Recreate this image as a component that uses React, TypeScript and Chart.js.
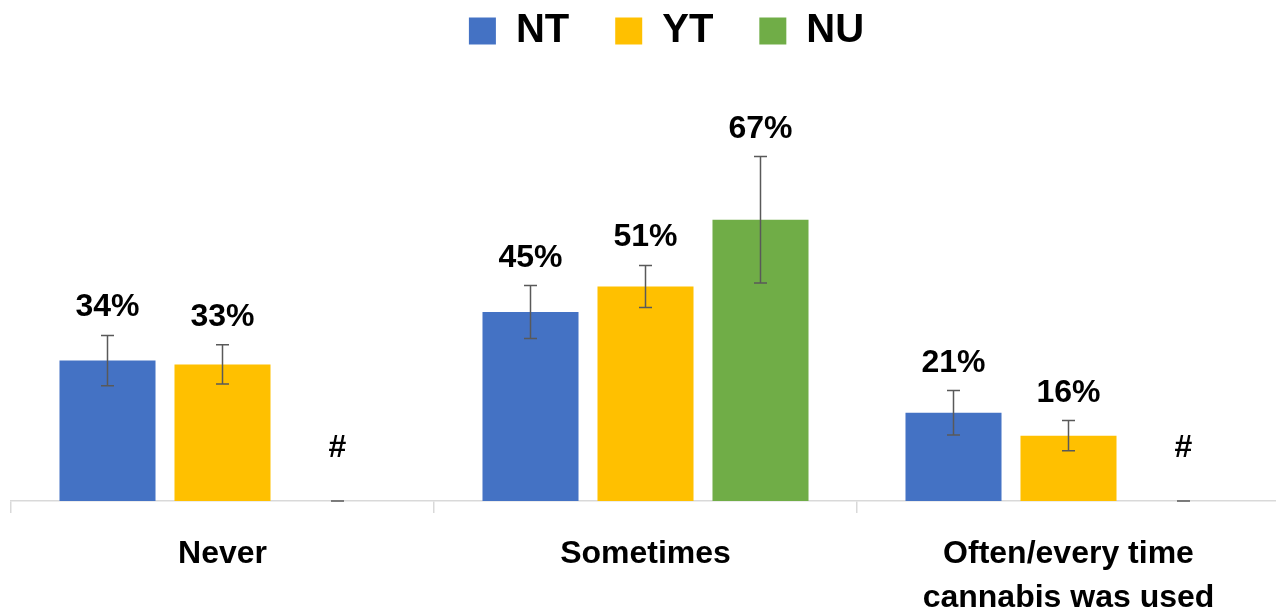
import React, { useEffect, useRef } from 'react';
import { Chart, registerables } from 'chart.js';

Chart.register(...registerables);

const categories: (string | string[])[] = ['Never', 'Sometimes', ['Often/every time', 'cannabis was used']];
const seriesNames = ['NT', 'YT', 'NU'];
const ntValues: (number | null)[] = [33.5, 45.1, 21.05];
const ytValues: (number | null)[] = [32.6, 51.2, 15.6];
const nuValues: (number | null)[] = [null, 67.1, null];
const ntErrors = [6.0, 6.3, 5.3];
const ytErrors = [4.7, 5.0, 3.6];
const nuErrors = [0, 15.1, 0];
const seriesColors = ['#4472C4', '#FFC000', '#70AD47'];
const suppressedLabel = '#';

const FONT = '"Liberation Sans", Arial, sans-serif';

const errorBarPlugin = {
  id: 'errorBarsAndLabels',
  afterDatasetsDraw(chart: any) {
    const ctx = chart.ctx as CanvasRenderingContext2D;
    const yScale = chart.scales.y;
    chart.data.datasets.forEach((ds: any, di: number) => {
      const meta = chart.getDatasetMeta(di);
      meta.data.forEach((el: any, i: number) => {
        const raw = ds.data[i];
        const v = raw == null ? 0 : raw;
        const e = ds.errors[i] || 0;
        const x = el.x;
        const top = yScale.getPixelForValue(v + e);
        const bot = yScale.getPixelForValue(v - e);
        ctx.save();
        ctx.strokeStyle = '#595959';
        ctx.lineWidth = 1.5;
        ctx.beginPath();
        ctx.moveTo(x, top);
        ctx.lineTo(x, bot);
        ctx.moveTo(x - 6.5, top);
        ctx.lineTo(x + 6.5, top);
        ctx.moveTo(x - 6.5, bot);
        ctx.lineTo(x + 6.5, bot);
        ctx.stroke();
        ctx.fillStyle = '#000';
        ctx.textAlign = 'center';
        ctx.textBaseline = 'alphabetic';
        ctx.font = 'bold 32px ' + FONT;
        if (raw == null) {
          ctx.fillText(suppressedLabel, x, yScale.getPixelForValue(0) - 44);
        } else {
          ctx.fillText(Math.round(v) + '%', x, top - 19);
        }
        ctx.restore();
      });
    });
  },
};

export default function App() {
  const ref = useRef<HTMLCanvasElement | null>(null);
  useEffect(() => {
    if (!ref.current) return;
    Chart.defaults.font.family = FONT;
    const valueSets = [ntValues, ytValues, nuValues];
    const errorSets = [ntErrors, ytErrors, nuErrors];
    const chart = new Chart(ref.current, {
      type: 'bar',
      data: {
        labels: categories as any,
        datasets: seriesNames.map((name, i) => ({
          label: name,
          data: valueSets[i] as any,
          errors: errorSets[i],
          backgroundColor: seriesColors[i],
          borderWidth: 0,
          barPercentage: 0.835,
          categoryPercentage: 0.8156,
        })) as any,
      },
      options: {
        responsive: false,
        animation: false,
        layout: { padding: { top: -35, left: 11, right: 0, bottom: 0 } },
        plugins: {
          tooltip: { enabled: false },
          legend: {
            position: 'top',
            labels: {
              boxWidth: 27,
              boxHeight: 27,
              padding: 46,
              color: '#000',
              font: { size: 40, weight: 'bold', family: FONT },
            },
          },
        },
        scales: {
          x: {
            offset: true,
            grid: {
              display: true,
              drawOnChartArea: false,
              drawTicks: true,
              tickLength: 12,
              color: '#d9d9d9',
              lineWidth: 1.5,
              offset: true,
            },
            border: { display: true, color: '#d9d9d9', width: 1.5 },
            ticks: {
              color: '#000',
              font: { size: 32, weight: 'bold', family: FONT, lineHeight: 1.375 },
              padding: 19,
              maxRotation: 0,
              autoSkip: false,
            },
            afterFit: (scale: any) => {
              scale.height = 109;
            },
          },
          y: {
            position: 'right',
            min: 0,
            max: 105,
            display: true,
            ticks: { display: false },
            grid: { display: false },
            border: { display: false },
            afterFit: (scale: any) => {
              scale.width = 42;
            },
          },
        },
      } as any,
      plugins: [errorBarPlugin],
    });
    return () => chart.destroy();
  }, []);
  return (
    <div style={{ position: 'absolute', left: 0, top: 0, width: 1276, height: 610, overflow: 'hidden', background: '#fff' }}>
      <canvas ref={ref} width={1322} height={610} style={{ width: 1322, height: 610, display: 'block' }} />
    </div>
  );
}
